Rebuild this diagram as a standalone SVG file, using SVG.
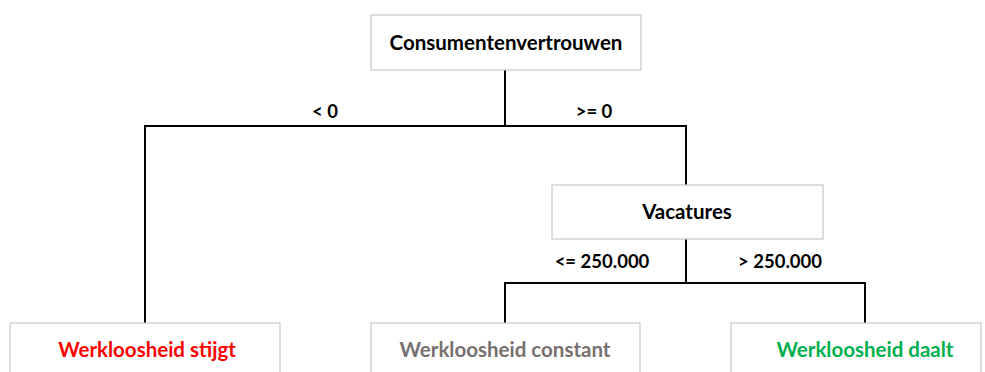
<svg xmlns="http://www.w3.org/2000/svg" width="985" height="372" viewBox="0 0 985 372">
<style>
.box{fill:#fff;stroke:#c8c8c8;stroke-width:1.2}
.t{font-family:Lato,"Liberation Sans",sans-serif;font-weight:bold;font-size:20.5px;text-anchor:middle;fill:#000}
.l{font-family:Lato,"Liberation Sans",sans-serif;font-weight:bold;font-size:18.5px;text-anchor:middle;fill:#000}
.c{fill:none;stroke:#000;stroke-width:2}
</style>
<rect width="985" height="372" fill="#fff"/>
<g id="connectors">
<path class="c" d="M505 70V126M145 323V126H686V185"/>
<path class="c" d="M686 239V283M505 323V283H865V323"/>
<text class="l" x="325" y="118">&lt; 0</text>
<text class="l" x="594" y="118">&gt;= 0</text>
<text class="l" x="602" y="268">&lt;= 250.000</text>
<text class="l" x="780" y="268">&gt; 250.000</text>
</g>
<g id="root"><rect class="box" x="371" y="15" width="270" height="55"/><text class="t" x="506" y="50">Consumentenvertrouwen</text></g>
<g id="vacatures"><rect class="box" x="552" y="185" width="271" height="54"/><text class="t" x="687" y="219">Vacatures</text></g>
<g id="stijgt"><rect class="box" x="10" y="323" width="270" height="60"/><text class="t" x="147" y="357" style="fill:#ff0000">Werkloosheid stijgt</text></g>
<g id="constant"><rect class="box" x="371" y="323" width="269" height="60"/><text class="t" x="505" y="357" style="fill:#767171">Werkloosheid constant</text></g>
<g id="daalt"><rect class="box" x="731" y="323" width="250" height="60"/><text class="t" x="865" y="357" style="fill:#00b050">Werkloosheid daalt</text></g>
</svg>
